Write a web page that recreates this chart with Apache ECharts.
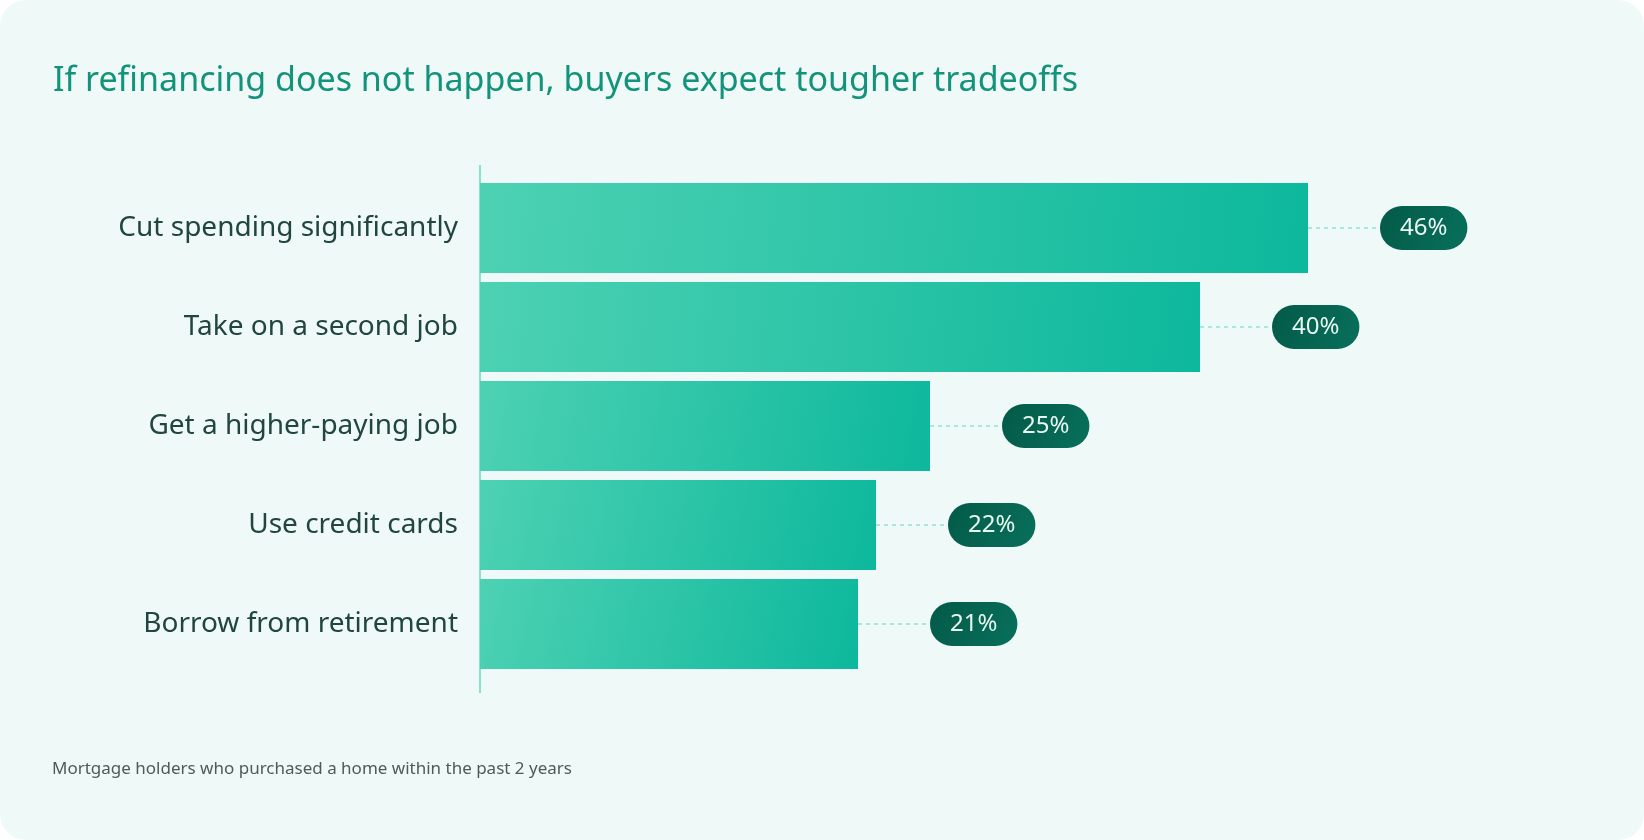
<!DOCTYPE html>
<html>
<head>
<meta charset="utf-8">
<script src="https://cdn.jsdelivr.net/npm/echarts@6/dist/echarts.min.js"></script>
<style>
  html, body { margin: 0; padding: 0; background: #ffffff; }
  #chart { width: 1644px; height: 840px; background: #eff9f8; border-radius: 26px; overflow: hidden; }
</style>
</head>
<body>
<div id="chart"></div>
<script>
// Survey answers, top to bottom
const categories = [
    'Cut spending significantly',
    'Take on a second job',
    'Get a higher-paying job',
    'Use credit cards',
    'Borrow from retirement'
];
const shares = [46, 40, 25, 22, 21];
const titleText = 'If refinancing does not happen, buyers expect tougher tradeoffs';
const noteText = 'Mortgage holders who purchased a home within the past 2 years';

const FONT = '"Noto Sans", "IBM Plex Sans", sans-serif';

const chart = echarts.init(document.getElementById('chart'), null, { renderer: 'canvas' });

const barFill = new echarts.graphic.LinearGradient(0, 0, 1, 1, [
    { offset: 0, color: '#4dd1b3' },
    { offset: 1, color: '#0db89c' }
]);
const pillFill = new echarts.graphic.LinearGradient(0, 0, 1, 1, [
    { offset: 0, color: '#035a48' },
    { offset: 1, color: '#08705b' }
]);

chart.setOption({
    backgroundColor: 'transparent',
    animation: false,
    title: [
        {
            text: titleText,
            left: 48,
            top: 59,
            textStyle: { color: '#12937a', fontSize: 34, fontWeight: 400, fontFamily: FONT }
        },
        {
            text: noteText,
            left: 47,
            top: 756,
            textStyle: { color: '#4f5b59', fontSize: 17, fontWeight: 400, fontFamily: FONT }
        }
    ],
    graphic: [
        {
            // vertical baseline of the bars
            type: 'rect',
            shape: { x: 479, y: 165, width: 2, height: 528 },
            style: { fill: '#86e3cd' },
            silent: true
        }
    ],
    grid: {
        left: 480,
        top: 178.5,
        width: 900,
        height: 495
    },
    xAxis: {
        type: 'value',
        min: 0,
        max: 50,
        show: false
    },
    yAxis: {
        type: 'category',
        inverse: true,
        data: categories,
        axisLine: { show: false },
        axisTick: { show: false },
        splitLine: { show: false },
        axisLabel: {
            margin: 22,
            color: '#21463f',
            fontSize: 28,
            fontFamily: FONT
        }
    },
    series: [
        {
            type: 'bar',
            data: shares,
            barWidth: 90,
            itemStyle: { color: barFill },
            label: {
                show: true,
                position: 'right',
                distance: 0,
                formatter: '{c}%',
                color: '#e8f7f1',
                fontSize: 24,
                fontFamily: FONT,
                lineHeight: 24,
                backgroundColor: pillFill,
                borderRadius: 22,
                padding: [10, 20]
            },
            labelLayout: { dx: 72 },
            labelLine: {
                show: true,
                lineStyle: { color: '#8fe3cf', width: 1.5, type: [4, 4] }
            },
            silent: true
        }
    ]
});
</script>
</body>
</html>
